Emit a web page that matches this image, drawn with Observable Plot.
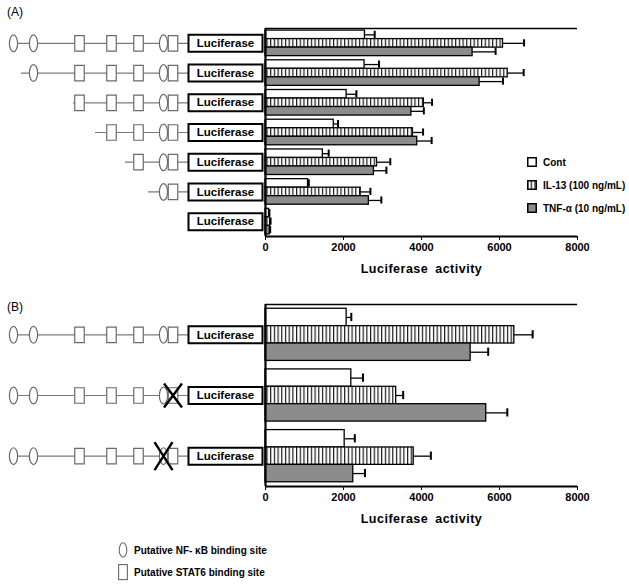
<!DOCTYPE html>
<html>
<head>
<meta charset="utf-8">
<script src="https://cdn.jsdelivr.net/npm/d3@7"></script>
<script src="https://cdn.jsdelivr.net/npm/@observablehq/plot@0.6"></script>
<style>
  body { margin: 0; background: #fff; }
  #fig { position: relative; width: 629px; height: 587px; font-family: "Liberation Sans", Arial, sans-serif; color: #000; overflow: hidden; }
  .abs { position: absolute; }
  .plbl { position: absolute; font-size: 12px; }
  .leg { position: absolute; font-size: 10px; font-weight: bold; display: flex; align-items: center; white-space: nowrap; }
  .leg svg { margin-right: 6px; overflow: visible; }
</style>
</head>
<body>
<svg width="0" height="0" style="position:absolute">
  <defs>
    <pattern id="vstripe" patternUnits="userSpaceOnUse" width="3.7" height="4">
      <rect width="3.7" height="4" fill="#fff"></rect>
      <rect x="0" width="1.2" height="4" fill="#1a1a1a"></rect>
    </pattern>
  </defs>
</svg>
<div id="fig"></div>
<script>
// ---------------- data ----------------
const series = ["Cont", "IL-13 (100 ng/mL)", "TNF-α (10 ng/mL)"];
const xTicks = [0, 2000, 4000, 6000, 8000];
const xLabel = "Luciferase activity";

// Panel A : deletion constructs (top to bottom)
const constructsA = ["full", "del1", "del2", "del3", "del4", "del5", "basic"];
const contA = [2550, 2540, 2080, 1750, 1470, 1090, 90];
const contErrA = [250, 370, 250, 110, 150, 20, 10];
const il13A = [6090, 6210, 4060, 3780, 2860, 2440, 120];
const il13ErrA = [540, 410, 210, 260, 340, 250, 10];
const tnfA = [5310, 5490, 3740, 3890, 2780, 2650, 110];
const tnfErrA = [590, 600, 320, 370, 320, 320, 10];
// first promoter site kept in each construct (null = no promoter sites)
const firstSiteA = [0, 1, 2, 3, 4, 5, null];
const lineStartA = [9, 21, 73, 95, 125, 148, null];

// Panel B : site mutants
const constructsB = ["wild", "STAT6 mut", "NF-kB mut"];
const contB = [2080, 2200, 2030];
const contErrB = [120, 300, 260];
const il13B = [6380, 3350, 3800];
const il13ErrB = [470, 180, 440];
const tnfB = [5260, 5660, 2250];
const tnfErrB = [450, 540, 300];
const mutatedSiteB = [null, 6, 5];

// promoter schematic: site types and their positions along the promoter (schematic units)
const siteTypes = ["NF", "NF", "STAT", "STAT", "STAT", "NF", "STAT"];
const sitePos = [13, 33, 79, 111, 138, 163, 172.5];
const lucStart = 188, lucEnd = 262;

const siteLegend = ["Putative NF- κB binding site", "Putative STAT6 binding site"];

// ---------------- helpers ----------------
const FONT = "'Liberation Sans', Arial, sans-serif";
const fills = ["#fff", "url(#vstripe)", "#8c8c8c"];

function ellipseSym(rx, ry) {
  return { draw(ctx) {
    const k = 0.5523;
    ctx.moveTo(rx, 0);
    ctx.bezierCurveTo(rx, ry * k, rx * k, ry, 0, ry);
    ctx.bezierCurveTo(-rx * k, ry, -rx, ry * k, -rx, 0);
    ctx.bezierCurveTo(-rx, -ry * k, -rx * k, -ry, 0, -ry);
    ctx.bezierCurveTo(rx * k, -ry, rx, -ry * k, rx, 0);
    ctx.closePath();
  }};
}
function rectSym(w, h) {
  return { draw(ctx) { ctx.rect(-w / 2, -h / 2, w, h); } };
}
function crossSym(w, h) {
  return { draw(ctx) {
    ctx.moveTo(-w / 2, -h / 2); ctx.lineTo(w / 2, h / 2);
    ctx.moveTo(w / 2, -h / 2); ctx.lineTo(-w / 2, h / 2);
  }};
}

function barsPlot(rows, vals, errs, height, marginTop, marginBottom, capHalf) {
  const n = rows.length;
  const top = 0.07, h = (0.93 - 0.07) / 3;
  const data = rows.flatMap((row, r) => series.map((s, j) => ({
    r, j, v: vals[j][r], e: errs[j][r]
  })));
  const y1 = d => d.r + top + d.j * h;
  const y2 = d => d.r + top + (d.j + 1) * h;
  const yc = d => d.r + top + (d.j + 0.5) * h;
  const marks = [
    Plot.ruleY(data, { x1: "v", x2: d => d.v + d.e, y: yc, stroke: "#000", strokeWidth: 1.3 })
  ];
  series.forEach((s, j) => {
    marks.push(Plot.rect(data.filter(d => d.j === j), {
      x1: 0, x2: "v", y1, y2, fill: fills[j], stroke: "#000", strokeWidth: 1.3
    }));
  });
  marks.push(
    Plot.ruleX(data, { x: d => d.v + d.e, y1: d => yc(d) - capHalf, y2: d => yc(d) + capHalf, stroke: "#000", strokeWidth: 2 }),
    Plot.ruleY([0], { stroke: "#000", strokeWidth: 1.6 }),
    Plot.ruleY([n], { stroke: "#000", strokeWidth: 2 }),
    Plot.ruleX([0], { stroke: "#000", strokeWidth: 2.2 })
  );
  const svg = Plot.plot({
    width: 629, height, marginLeft: 265, marginRight: 52, marginTop, marginBottom,
    style: { fontFamily: FONT, fontSize: "11px", fontWeight: "bold", background: "transparent", overflow: "visible" },
    x: { domain: [0, 8000], ticks: xTicks, tickFormat: d3.format("d"), tickSize: 4, tickPadding: 3,
         label: xLabel, labelAnchor: "center", labelOffset: 36 },
    y: { domain: [0, n], reverse: true, axis: null },
    marks
  });
  // keep the axis title plain (no arrow) and make it a bit larger, like the original
  d3.select(svg).selectAll("text").filter(function () { return this.textContent.includes(xLabel); })
    .each(function () {
      const t = d3.select(this);
      const tsp = t.selectAll("tspan");
      if (tsp.size()) tsp.text(function () { return this.textContent.includes(xLabel) ? xLabel : ""; });
      else t.text(xLabel);
    })
    .style("font-size", "12.5px").style("letter-spacing", "0.5px").style("word-spacing", "3px");
  return svg;
}

function diagramPlot(n, items, height, marginTop, marginBottom) {
  const lines = items.filter(d => d.first !== null).map(d => ({ r: d.r, x1: d.lineStart, x2: lucStart }));
  const sites = items.flatMap(d => d.first === null ? [] :
    sitePos.map((p, k) => ({ r: d.r, k, p, t: siteTypes[k] })).filter(s => s.k >= d.first));
  const muts = items.filter(d => d.mut != null).map(d => ({ r: d.r, p: sitePos[d.mut], t: siteTypes[d.mut] }));
  const boxes = items.map(d => ({ r: d.r, x: (lucStart + lucEnd) / 2 }));
  const yc = d => d.r + 0.5;
  return Plot.plot({
    width: 265, height, marginLeft: 0, marginRight: 0, marginTop, marginBottom,
    style: { fontFamily: FONT, background: "transparent", overflow: "visible" },
    x: { domain: [0, 265], axis: null },
    y: { domain: [0, n], reverse: true, axis: null },
    marks: [
      Plot.ruleY(lines, { x1: "x1", x2: "x2", y: yc, stroke: "#7a7a7a", strokeWidth: 1.2 }),
      Plot.dot(sites.filter(s => s.t === "STAT"), { x: "p", y: yc, r: 5, symbol: rectSym(9.5, 15.5), fill: "#fff", stroke: "#6a6a6a", strokeWidth: 1.2 }),
      Plot.dot(sites.filter(s => s.t === "NF"), { x: "p", y: yc, r: 5, symbol: ellipseSym(4.1, 8.4), fill: "#fff", stroke: "#6a6a6a", strokeWidth: 1.2 }),
      Plot.dot(boxes, { x: "x", y: yc, r: 5, symbol: rectSym(74, 17), fill: "#fff", stroke: "#000", strokeWidth: 2 }),
      Plot.text(boxes, { x: "x", y: yc, text: () => "Luciferase", fontSize: 11.5, fontWeight: "bold", fill: "#000" }),
      Plot.dot(muts.filter(d => d.t === "STAT"), { x: "p", y: yc, r: 5, symbol: crossSym(18, 24), fill: "none", stroke: "#000", strokeWidth: 2.4 }),
      Plot.dot(muts.filter(d => d.t === "NF"), { x: "p", y: yc, r: 5, symbol: crossSym(18, 28), fill: "none", stroke: "#000", strokeWidth: 2.4 })
    ]
  });
}

// ---------------- build ----------------
const fig = document.getElementById("fig");
function place(el, left, top) {
  const w = document.createElement("div");
  w.className = "abs"; w.style.left = left + "px"; w.style.top = top + "px";
  w.appendChild(el); fig.appendChild(w); return w;
}
function label(text, left, top) {
  const d = document.createElement("div");
  d.className = "plbl"; d.textContent = text; d.style.left = left + "px"; d.style.top = top + "px";
  fig.appendChild(d);
}

// Panel A
label("(A)", 7, 5);
place(barsPlot(constructsA, [contA, il13A, tnfA], [contErrA, il13ErrA, tnfErrA], 280, 28, 44, 0.12), 0, 0);
const itemsA = constructsA.map((c, r) => ({ r, first: firstSiteA[r], lineStart: lineStartA[r], mut: null }));
place(diagramPlot(constructsA.length, itemsA, 280, 28, 44), 0, 0);

// Panel B
label("(B)", 7, 300);
place(barsPlot(constructsB, [contB, il13B, tnfB], [contErrB, il13ErrB, tnfErrB], 250, 24, 44, 0.068), 0, 280);
const itemsB = constructsB.map((c, r) => ({ r, first: 0, lineStart: 9, mut: mutatedSiteB[r] }));
place(diagramPlot(constructsB.length, itemsB, 250, 24, 44), 0, 280);

// Series legend (panel A)
const swatchY = [155, 178, 201];
series.forEach((s, j) => {
  const d = document.createElement("div");
  d.className = "leg"; d.style.left = "527px"; d.style.top = swatchY[j] + "px"; d.style.height = "14px";
  d.innerHTML = `<svg width="10" height="10"><rect x="0.75" y="0.75" width="8.5" height="8.5" fill="${fills[j]}" stroke="#000" stroke-width="1.5"></rect></svg><span>${s}</span>`;
  fig.appendChild(d);
});

// Site legend (bottom)
const sl1 = document.createElement("div");
sl1.className = "leg"; sl1.style.left = "118px"; sl1.style.top = "541px"; sl1.style.height = "18px";
sl1.innerHTML = `<svg width="10" height="16"><ellipse cx="5" cy="8" rx="3.8" ry="7.2" fill="#fff" stroke="#6a6a6a" stroke-width="1.1"></ellipse></svg><span>${siteLegend[0]}</span>`;
fig.appendChild(sl1);
const sl2 = document.createElement("div");
sl2.className = "leg"; sl2.style.left = "118px"; sl2.style.top = "563px"; sl2.style.height = "18px";
sl2.innerHTML = `<svg width="10" height="16"><rect x="0.6" y="0.6" width="8.8" height="15" fill="#fff" stroke="#6a6a6a" stroke-width="1.1"></rect></svg><span>${siteLegend[1]}</span>`;
fig.appendChild(sl2);
</script>
</body>
</html>
